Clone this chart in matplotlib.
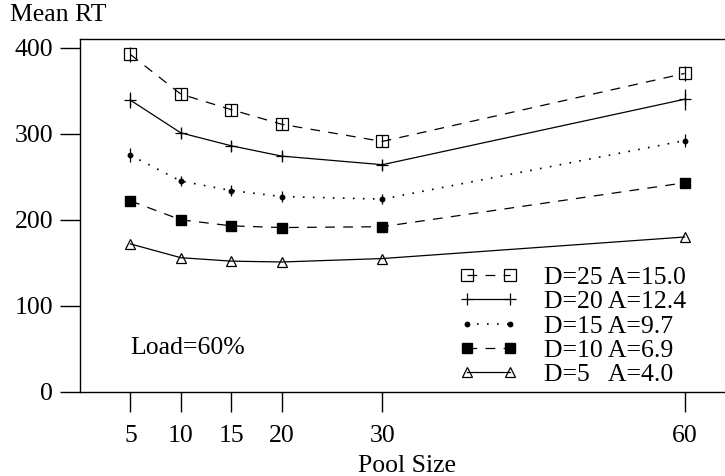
import matplotlib
matplotlib.use("Agg")
import matplotlib.pyplot as plt

plt.rcParams['font.family'] = ['Liberation Serif', 'DejaVu Serif']
plt.rcParams['lines.scale_dashes'] = False

# pool sizes on the x axis
pool_size = [5, 10, 15, 20, 30, 60]

# mean response time for each D / A setting
rt_d25 = [392, 346, 328, 311, 291, 370]
rt_d20 = [339, 301, 286, 274, 264, 340]
rt_d15 = [275, 245, 234, 227, 224, 292]
rt_d10 = [222, 200, 193, 191, 192, 243]
rt_d5 = [172, 156, 152, 151, 155, 180]

# half widths of the small error bars
err_d25 = [9, 7, 7, 7, 7, 9]
err_d20 = [9, 6, 6, 6, 6, 12]
err_d15 = [8, 6, 6, 6, 6, 8]

labels = ['D=25 A=15.0', 'D=20 A=12.4', 'D=15 A=9.7', 'D=10 A=6.9', 'D=5   A=4.0']
x_ticks = [5, 10, 15, 20, 30, 60]
y_ticks = [0, 100, 200, 300, 400]

fs = 18.5
fig = plt.figure(figsize=(7.25, 4.76), dpi=100)
ax = fig.add_axes([80/725, 1 - 392/476, 655/725, (392 - 39)/476])

lw = 0.9
dash = (7, 6)
dot = (1.2, 6)

ax.errorbar(pool_size, rt_d25, yerr=err_d25, fmt='none', ecolor='black', elinewidth=lw, capsize=0)
ax.errorbar(pool_size, rt_d20, yerr=err_d20, fmt='none', ecolor='black', elinewidth=lw, capsize=0)
ax.errorbar(pool_size, rt_d15, yerr=err_d15, fmt='none', ecolor='black', elinewidth=lw, capsize=0)

ax.plot(pool_size, rt_d25, color='black', lw=lw, dashes=dash, marker='s', ms=8.5,
        mfc='none', mec='black', mew=lw, label=labels[0])
ax.plot(pool_size, rt_d20, color='black', lw=lw, ls='-', marker='+', ms=9,
        mew=lw, label=labels[1])
ax.plot(pool_size, rt_d15, color='black', lw=1.2, dashes=dot, marker='o', ms=3.2,
        mfc='black', mec='black', label=labels[2])
ax.plot(pool_size, rt_d10, color='black', lw=lw, dashes=dash, marker='s', ms=7.5,
        mfc='black', mec='black', label=labels[3])
ax.plot(pool_size, rt_d5, color='black', lw=lw, ls='-', marker='^', ms=7.5,
        mfc='none', mec='black', mew=lw, label=labels[4])

ax.set_xlim(0, 65)
ax.set_ylim(0, 410)
ax.set_xticks(x_ticks)
ax.set_yticks(y_ticks)
ax.tick_params(axis='both', direction='out', length=14.4, width=1, labelsize=fs)
ax.tick_params(axis='x', pad=9)
ax.tick_params(axis='y', pad=5)
for sp in ax.spines.values():
    sp.set_linewidth(1)

ax.set_xlabel('Pool Size', fontsize=fs, labelpad=6)
fig.text(10/725, 1 - 15/476, 'Mean RT', fontsize=fs, va='center', ha='left')
ax.text(5, 51, 'Load=60%', fontsize=fs, va='center', ha='left')

leg = ax.legend(loc='upper left', bbox_to_anchor=(459/725, 1 - 266/476),
                bbox_transform=fig.transFigure, frameon=False, fontsize=fs,
                numpoints=2, handlelength=2.3, handletextpad=1.0,
                labelspacing=0.05, borderpad=0, borderaxespad=0)

fig.savefig('out.png', dpi=100)
